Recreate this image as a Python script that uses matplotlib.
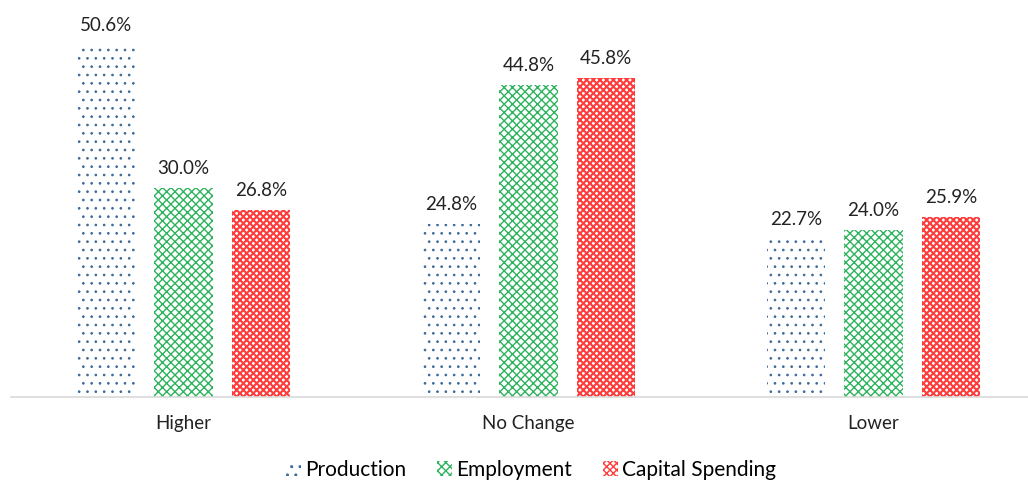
import matplotlib
matplotlib.use('Agg')
import matplotlib.pyplot as plt
from matplotlib.patches import Patch
import numpy as np

# survey answers, share of respondents (%)
categories = ['Higher', 'No Change', 'Lower']
production = [50.6, 24.8, 22.7]
employment = [30.0, 44.8, 24.0]
capital_spending = [26.8, 45.8, 25.9]

series = [
    ('Production', production, '#3A6A9A', '..', 0.7),
    ('Employment', employment, '#2DB35E', 'xxxx', 1.0),
    ('Capital Spending', capital_spending, '#FF3C3C', 'xxxxx', 1.5),
]

plt.rcParams['font.family'] = ['Lato', 'DejaVu Sans']

fig = plt.figure(figsize=(10.28, 4.82), dpi=100)
ax = fig.add_axes([11 / 1028, 85 / 482, 1035 / 1028, 387 / 482])

x = np.arange(len(categories))
width = 0.17
offset = 0.225

handles = []
for i, (name, vals, color, hatch, hlw) in enumerate(series):
    with plt.rc_context({'hatch.linewidth': hlw}):
        bars = ax.bar(x + (i - 1) * offset, vals, width, facecolor='white',
                      edgecolor=color, hatch=hatch, linewidth=0)
        handles.append(Patch(facecolor='white', edgecolor=color, hatch=hatch,
                             linewidth=0, label=name))
    for b in list(bars) + handles[-1:]:
        if hasattr(b, 'set_hatch_linewidth'):
            b.set_hatch_linewidth(hlw)
    for b, v in zip(bars, vals):
        ax.annotate(f'{v:.1f}%', (b.get_x() + b.get_width() / 2, v),
                    xytext=(0, 8), textcoords='offset points',
                    ha='center', va='bottom', fontsize=13.5, color='#222222')

ax.set_xlim(-0.5, 2.5)
ax.set_ylim(0, 55.6)
ax.set_xticks(x)
ax.set_xticklabels(categories, fontsize=13.5, color='#222222')
ax.tick_params(axis='x', length=0, pad=13)
ax.set_yticks([])
for side in ['top', 'left', 'right']:
    ax.spines[side].set_visible(False)
ax.spines['bottom'].set_color('#D9D9D9')
ax.spines['bottom'].set_linewidth(1.2)

fig.legend(handles=handles, loc='center', bbox_to_anchor=(531 / 1028, 1 - 470 / 482),
           ncol=3, frameon=False, fontsize=15, handlelength=0.7, handleheight=0.7,
           handletextpad=0.2, columnspacing=1.5)

fig.savefig('out.png', dpi=100)
